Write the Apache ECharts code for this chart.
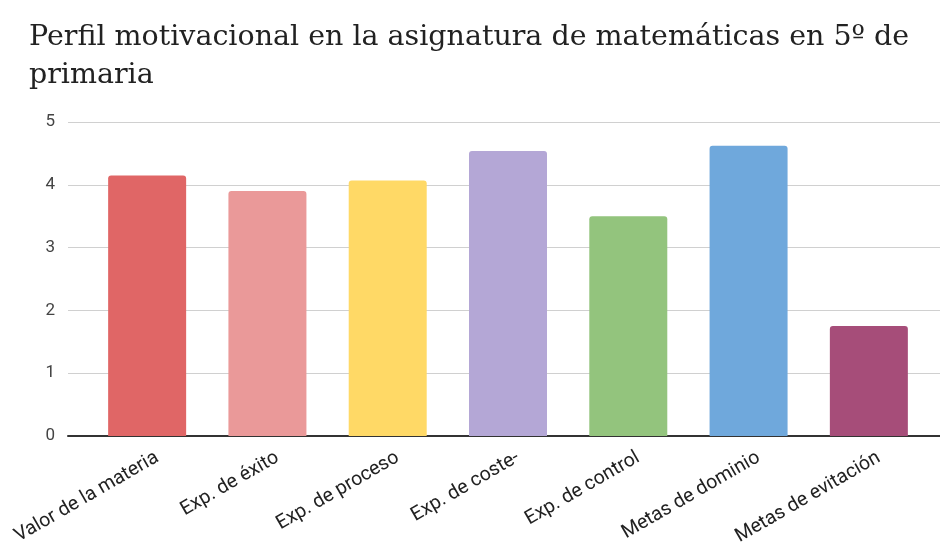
<!DOCTYPE html>
<html>
<head>
<meta charset="utf-8">
<script src="https://cdn.jsdelivr.net/npm/echarts@6/dist/echarts.min.js"></script>
<style>
  html, body { margin: 0; padding: 0; background: #fff; }
  #chart { width: 940px; height: 544px; }
</style>
</head>
<body>
<div id="chart"></div>
<script>
// datos del gráfico
const categories = ['Valor de la materia', 'Exp. de éxito', 'Exp. de proceso', 'Exp. de coste-',
  'Exp. de control', 'Metas de dominio', 'Metas de evitación'];
const values = [4.15, 3.9, 4.07, 4.54, 3.5, 4.62, 1.75];
const barColors = ['#E06666', '#EA9999', '#FFD966', '#B4A7D6', '#93C47D', '#6FA8DC', '#A64D79'];
const yTicks = [0, 1, 2, 3, 4, 5];

const chart = echarts.init(document.getElementById('chart'));

const option = {
  animation: false,
  backgroundColor: '#fff',
  title: {
    text: 'Perfil motivacional en la asignatura de matemáticas en 5º de\nprimaria',
    left: 24,
    top: 14,
    textStyle: {
      fontFamily: 'DejaVu Serif',
      fontWeight: 'normal',
      fontSize: 28.5,
      lineHeight: 38,
      color: '#222'
    }
  },
  grid: [
    // cuadrícula de fondo: líneas y etiquetas del eje Y
    { left: 68, right: 0, top: 122, bottom: 108, outerBoundsMode: 'none' },
    // barras
    { left: 87, right: 11, top: 122, bottom: 108, outerBoundsMode: 'none' }
  ],
  xAxis: [
    {
      type: 'value',
      gridIndex: 0,
      min: 0,
      max: 1,
      axisLabel: { show: false },
      axisTick: { show: false },
      splitLine: { show: false },
      axisLine: { show: true, lineStyle: { color: '#333', width: 2 } }
    },
    {
      type: 'category',
      gridIndex: 1,
      data: categories,
      axisLine: { show: false },
      axisTick: { show: false },
      axisLabel: {
        interval: 0,
        rotate: 30,
        margin: 3,
        verticalAlign: 'top',
        lineHeight: 40,
        fontFamily: 'Roboto',
        fontSize: 19.5,
        color: '#222'
      }
    }
  ],
  yAxis: [
    {
      type: 'value',
      gridIndex: 0,
      min: yTicks[0],
      max: yTicks[yTicks.length - 1],
      interval: 1,
      axisLine: { show: false },
      axisTick: { show: false },
      axisLabel: {
        margin: 13,
        fontFamily: 'Roboto',
        fontSize: 17,
        color: '#444'
      },
      splitLine: { lineStyle: { color: '#d0d0d0', width: 1 } }
    },
    {
      type: 'value',
      gridIndex: 1,
      min: yTicks[0],
      max: yTicks[yTicks.length - 1],
      interval: 1,
      show: false
    }
  ],
  series: [
    {
      type: 'bar',
      xAxisIndex: 1,
      yAxisIndex: 1,
      barWidth: 78,
      z: 3,
      data: values.map((v, i) => ({
        value: v,
        itemStyle: { color: barColors[i], borderRadius: [3, 3, 0, 0] }
      }))
    }
  ]
};

chart.setOption(option);
</script>
</body>
</html>
